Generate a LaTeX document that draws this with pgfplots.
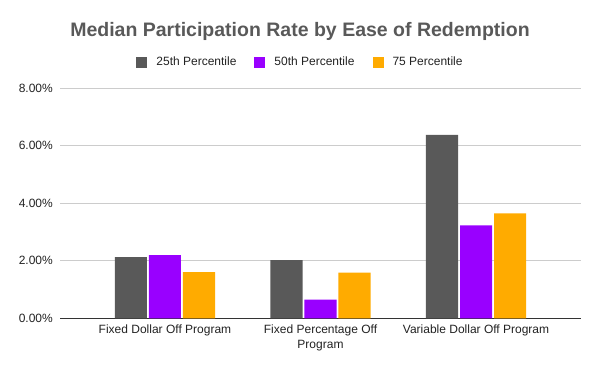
\documentclass[border=0pt]{standalone}
\usepackage{pgfplots}
\pgfplotsset{compat=1.18}
\usepackage{fontspec}
\setmainfont{Liberation Sans}
\definecolor{cgray}{HTML}{595959}
\definecolor{cpurple}{HTML}{9900FF}
\definecolor{corange}{HTML}{FFAB00}
\definecolor{gridc}{HTML}{CCCCCC}
\definecolor{axisc}{HTML}{333333}
\definecolor{titlec}{HTML}{595959}
\definecolor{textc}{HTML}{222222}
\begin{document}
\begin{tikzpicture}[x=1pt,y=1pt]
\path[use as bounding box] (0,0) rectangle (600,371);
\node[anchor=base, font=\fontsize{19.5}{24}\selectfont\bfseries, text=titlec, inner sep=0pt] at (300,334.3) {Median Participation Rate by Ease of Redemption};
\begin{axis}[
  at={(60pt,52.7pt)}, anchor=south west, scale only axis,
  width=521pt, height=230pt,
  xmin=-0.675, xmax=2.675, ymin=0, ymax=8,
  xtick={0,1,2},
  xticklabels={Fixed Dollar Off Program, Fixed Percentage Off\\Program, Variable Dollar Off Program},
  ytick={0,2,4,6,8},
  yticklabel={\pgfmathprintnumber[fixed,fixed zerofill,precision=2]{\tick}\%},
  /pgf/number format/assume math mode=true,
  axis x line=bottom, axis y line=left,
  x axis line style={draw=axisc, line width=1pt, -},
  y axis line style={draw=none},
  major tick length=0pt,
  ymajorgrids, grid style={draw=gridc, line width=0.8pt},
  xticklabel style={align=center, font=\fontsize{12}{15}\selectfont, text=textc, inner sep=0pt, yshift=-6pt},
  yticklabel style={font=\fontsize{12}{14}\selectfont, text=textc, inner sep=0pt, xshift=-7pt},
  ybar, bar width=0.206,
  legend style={at={(0.4616,1.114)}, anchor=center, draw=none, fill=none, legend columns=3,
    font=\fontsize{12}{14}\selectfont, text=textc,
    /tikz/every odd column/.append style={column sep=7pt},
    /tikz/every even column/.append style={column sep=16pt}},
  legend image code/.code={\fill[#1] (0pt,-5.5pt) rectangle (11pt,5.5pt);},
]
\addplot[fill=cgray, draw=none, bar shift=-0.2187] coordinates {(0,2.13) (1,2.02) (2,6.38)};
\addplot[fill=cpurple, draw=none, bar shift=0] coordinates {(0,2.20) (1,0.65) (2,3.23)};
\addplot[fill=corange, draw=none, bar shift=0.2187] coordinates {(0,1.61) (1,1.59) (2,3.65)};
\legend{25th Percentile, 50th Percentile, 75 Percentile}
\end{axis}
\end{tikzpicture}
\end{document}
